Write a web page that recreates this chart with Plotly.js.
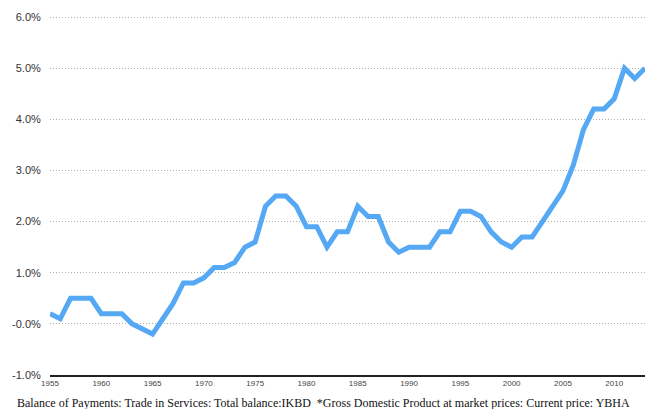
<!DOCTYPE html>
<html>
<head>
<meta charset="utf-8">
<script src="https://cdn.plot.ly/plotly-3.0.1.min.js"></script>
<style>html,body{margin:0;padding:0;background:#fff;}#chart{width:645px;height:409px;}</style>
</head>
<body>
<div id="chart"></div>
<script>
var years = [1955,1956,1957,1958,1959,1960,1961,1962,1963,1964,1965,1966,1967,1968,1969,1970,1971,1972,1973,1974,1975,1976,1977,1978,1979,1980,1981,1982,1983,1984,1985,1986,1987,1988,1989,1990,1991,1992,1993,1994,1995,1996,1997,1998,1999,2000,2001,2002,2003,2004,2005,2006,2007,2008,2009,2010,2011,2012,2013];
var servicesPctGDP = [0.2,0.1,0.5,0.5,0.5,0.2,0.2,0.2,0.0,-0.1,-0.2,0.1,0.4,0.8,0.8,0.9,1.1,1.1,1.2,1.5,1.6,2.3,2.5,2.5,2.3,1.9,1.9,1.5,1.8,1.8,2.3,2.1,2.1,1.6,1.4,1.5,1.5,1.5,1.8,1.8,2.2,2.2,2.1,1.8,1.6,1.5,1.7,1.7,2.0,2.3,2.6,3.1,3.8,4.2,4.2,4.4,5.0,4.8,5.0];
var yTickVals = [-1,0,1,2,3,4,5,6];
var yTickText = ['-1.0%','-0.0%','1.0%','2.0%','3.0%','4.0%','5.0%','6.0%'];
var xTickVals = [1955,1960,1965,1970,1975,1980,1985,1990,1995,2000,2005,2010];
var caption = 'Balance of Payments: Trade in Services: Total balance:IKBD  *Gross Domestic Product at market prices: Current price: YBHA';

var trace = {
  x: years, y: servicesPctGDP, type: 'scatter', mode: 'lines',
  line: {color: '#55a9f4', width: 5, shape: 'linear'},
  hoverinfo: 'skip'
};
var layout = {
  width: 645, height: 409,
  margin: {l: 50, r: 0, t: 15, b: 34},
  paper_bgcolor: '#fff', plot_bgcolor: '#fff',
  showlegend: false,
  xaxis: {
    range: [1955, 2013], tickvals: xTickVals, ticktext: xTickVals.map(String),
    showgrid: false, zeroline: false, showline: true, linecolor: '#222', linewidth: 1.5,
    ticks: '', tickfont: {family: 'Liberation Sans, Arial, sans-serif', size: 8, color: '#444'}
  },
  yaxis: {
    range: [-1, 6.04], tickvals: yTickVals, ticktext: yTickText,
    showgrid: true, gridcolor: '#b0b0b0', griddash: '1px,2px', gridwidth: 1,
    zeroline: false, showline: false,
    ticks: 'outside', ticklen: 6, tickcolor: 'rgba(0,0,0,0)',
    tickfont: {family: 'Liberation Sans, Arial, sans-serif', size: 11, color: '#333'}
  },
  annotations: [{
    xref: 'paper', yref: 'paper', x: 0.46, y: -0.052, xanchor: 'center', yanchor: 'top',
    text: caption, showarrow: false,
    font: {family: 'Liberation Serif, Times New Roman, serif', size: 12, color: '#111'}
  }]
};
Plotly.newPlot('chart', [trace], layout, {displayModeBar: false, staticPlot: true});
</script>
</body>
</html>
